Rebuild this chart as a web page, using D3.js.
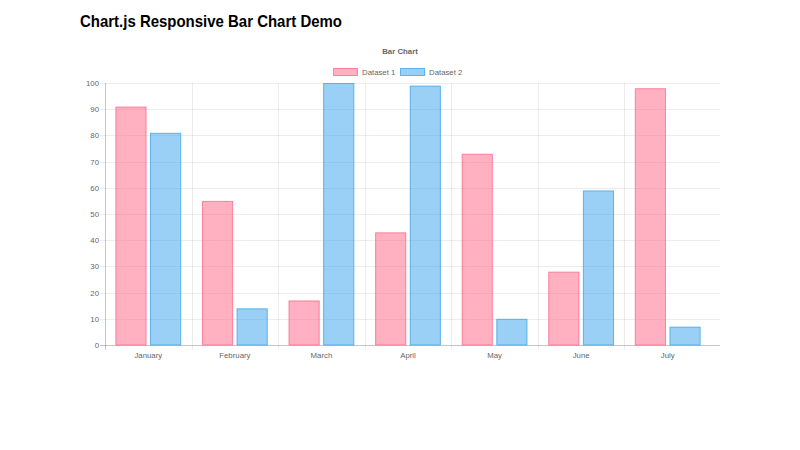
<!DOCTYPE html>
<html><head><meta charset="utf-8">
<script src="https://cdn.jsdelivr.net/npm/d3@7"></script>
<style>
body{margin:0;background:#fff;font-family:"Liberation Sans",Arial,Helvetica,sans-serif;}
</style></head>
<body>
<svg id="c" width="800" height="450" style="position:absolute;left:0;top:0"></svg>
<script>
const categories = ["January","February","March","April","May","June","July"];
const seriesNames = ["Dataset 1","Dataset 2"];
const dataset1 = [91,55,17,43,73,28,98];
const dataset2 = [81,14,100,99,10,59,7];
const yTicks = [0,10,20,30,40,50,60,70,80,90,100];
const fills = ["rgba(255,99,132,0.5)","rgba(54,162,235,0.5)"];
const strokes = ["rgb(255,99,132)","rgb(54,162,235)"];

const svg = d3.select("#c");
const pLeft=105, pRight=720, pBandRight=711, pTop=83, pBottom=345;
const fs = 7.8, txt="#666";

// page heading
svg.append("text").attr("x",80).attr("y",27).attr("font-size",17).attr("font-weight","bold")
  .attr("fill","#000").attr("textLength",262).attr("lengthAdjust","spacingAndGlyphs")
  .text("Chart.js Responsive Bar Chart Demo");

const x = d3.scaleBand().domain(categories).range([pLeft,pBandRight]).padding(0);
const y = d3.scaleLinear().domain([0,100]).range([pBottom,pTop]);

// grid
const grid = svg.append("g");
yTicks.forEach(t=>{
  grid.append("line").attr("x1",pLeft-5).attr("x2",pRight).attr("y1",Math.round(y(t))+0.5).attr("y2",Math.round(y(t))+0.5)
    .attr("stroke", t===0 ? "rgba(0,0,0,0.22)" : "rgba(0,0,0,0.07)").attr("stroke-width",1);
});
const xGrid = categories.map(c=>x(c));
xGrid.forEach((gx,i)=>{
  grid.append("line").attr("x1",Math.round(gx)+0.5).attr("x2",Math.round(gx)+0.5).attr("y1",pTop).attr("y2",pBottom+5)
    .attr("stroke", i===0 ? "rgba(0,0,0,0.22)" : "rgba(0,0,0,0.07)");
});

// y labels
const yAxis = d3.axisLeft(y).tickValues(yTicks).tickSize(0).tickPadding(6);
const ya = svg.append("g").attr("transform",`translate(${pLeft},0)`).call(yAxis);
ya.select(".domain").remove();
ya.selectAll("text").attr("font-size",fs).attr("fill",txt).attr("font-family","Liberation Sans, Arial, sans-serif");

// x labels
const xAxis = d3.axisBottom(x).tickSize(0).tickPadding(7);
const xa = svg.append("g").attr("transform",`translate(0,${pBottom})`).call(xAxis);
xa.select(".domain").remove();
xa.selectAll("text").attr("font-size",fs).attr("fill",txt).attr("font-family","Liberation Sans, Arial, sans-serif");

// bars
const catW = x.bandwidth()*0.8;
const slot = catW/2;
const bw = slot*0.9;
const series = [dataset1,dataset2];
series.forEach((vals,si)=>{
  svg.append("g").selectAll("rect").data(vals).join("rect")
    .attr("x",(d,i)=> x(categories[i]) + x.bandwidth()*0.1 + si*slot + (slot-bw)/2 + 0.5)
    .attr("y",d=>y(d)+0.5)
    .attr("width",bw-1)
    .attr("height",d=>pBottom-y(d)-0.5)
    .attr("fill",fills[si]).attr("stroke",strokes[si]).attr("stroke-opacity",0.75).attr("stroke-width",1);
});

// chart title
svg.append("text").attr("x",400).attr("y",54).attr("text-anchor","middle")
  .attr("font-size",fs).attr("font-weight","bold").attr("fill",txt).text("Bar Chart");

// legend
const lg = svg.append("g");
const legX = [333, 400];
seriesNames.forEach((n,i)=>{
  lg.append("rect").attr("x",legX[i]+0.5).attr("y",68.5).attr("width",24).attr("height",7)
    .attr("fill",fills[i]).attr("stroke",strokes[i]).attr("stroke-opacity",0.75);
  lg.append("text").attr("x",legX[i]+29).attr("y",75).attr("font-size",fs).attr("fill",txt).text(n);
});
</script>
</body></html>
